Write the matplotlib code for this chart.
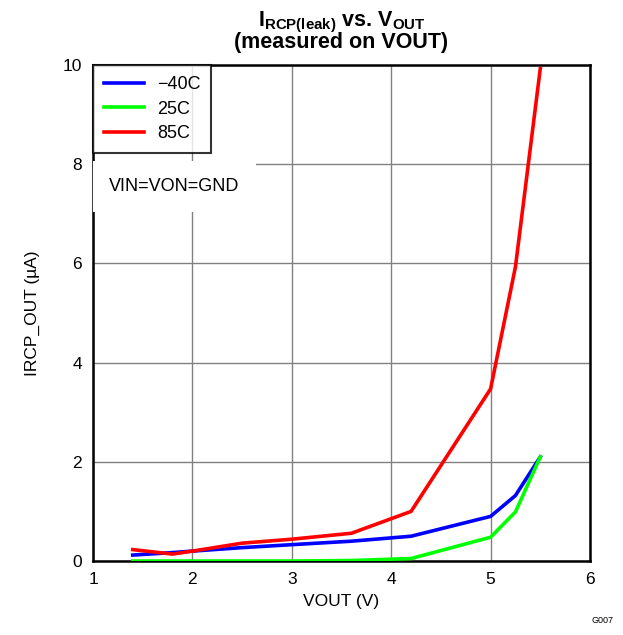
import numpy as np
import matplotlib.pyplot as plt

plt.rcParams['font.family'] = ['Liberation Sans', 'DejaVu Sans']
plt.rcParams['mathtext.fontset'] = 'custom'
plt.rcParams['mathtext.rm'] = 'Liberation Sans'
plt.rcParams['mathtext.bf'] = 'Liberation Sans:bold'

# Leakage current vs output voltage at three temperatures
vout_cold = [1.4, 1.8, 2.0, 2.5, 3.0, 3.6, 4.2, 5.0, 5.25, 5.5]
i_cold = [0.12, 0.17, 0.20, 0.27, 0.33, 0.40, 0.50, 0.90, 1.32, 2.10]

vout_room = [1.4, 1.8, 2.0, 2.5, 3.0, 3.6, 4.2, 5.0, 5.25, 5.5]
i_room = [0.0, 0.0, 0.0, 0.0, 0.0, 0.01, 0.05, 0.48, 0.99, 2.10]

vout_hot = [1.4, 1.8, 2.0, 2.5, 3.0, 3.6, 4.2, 5.0, 5.25, 5.5]
i_hot = [0.23, 0.14, 0.20, 0.36, 0.44, 0.56, 1.00, 3.47, 5.93, 9.93]

fig = plt.figure(figsize=(6.23, 6.35), dpi=100)
ax = fig.add_axes([0.1493, 0.1165, 0.7977, 0.781])

ax.plot(vout_cold, i_cold, color='#0000ff', lw=2.6, label='\u221240C', zorder=3)
ax.plot(vout_room, i_room, color='#00ff00', lw=2.6, label='25C', zorder=3)
ax.plot(vout_hot, i_hot, color='#ff0000', lw=2.6, label='85C', zorder=3)

ax.set_xlim(1, 6)
ax.set_ylim(0, 10)
ax.set_xticks(np.arange(1, 7, 1))
ax.set_yticks(np.arange(0, 11, 2))
ax.tick_params(length=0, labelsize=12.5, pad=8)
ax.grid(True, color='#808080', lw=1.0)
ax.set_axisbelow(True)
for s in ax.spines.values():
    s.set_linewidth(1.8)

ax.set_xlabel('VOUT (V)', fontsize=12.5, labelpad=5)
ax.set_ylabel('IRCP_OUT (\u00b5A)', fontsize=12.5, labelpad=16)
ax.set_title(r'$\mathbf{I_{RCP(leak)}}$ vs. $\mathbf{V_{OUT}}$' + '\n(measured on VOUT)',
             fontsize=15.5, fontweight='bold', linespacing=0.85, pad=12)

leg = ax.legend(loc='upper left', fontsize=13, frameon=True, fancybox=False,
                borderaxespad=0, handlelength=2.2, handletextpad=0.75,
                borderpad=0.6, labelspacing=0.42)
leg.get_frame().set_edgecolor('black')
leg.get_frame().set_linewidth(1.5)

ax.text(0.033, 0.755, 'VIN=VON=GND', transform=ax.transAxes, fontsize=13,
        va='center', ha='left',
        bbox=dict(facecolor='white', edgecolor='none', pad=12))

fig.text(0.984, 0.016, 'G007', fontsize=6.5, ha='right', va='bottom')

fig.savefig('out.png', dpi=100)
